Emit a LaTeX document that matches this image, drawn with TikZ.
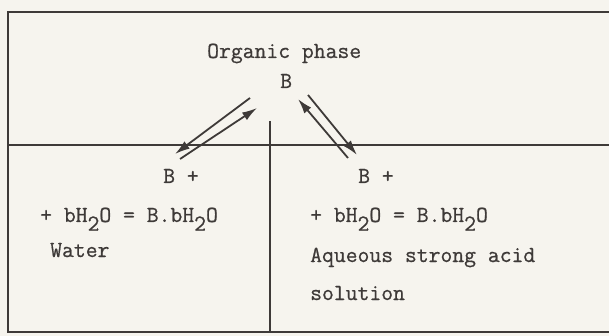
\documentclass[tikz,border=0pt]{standalone}
\usepackage{fontspec}
\setmainfont{Latin Modern Mono}[FakeBold=0.7]
\usetikzlibrary{arrows.meta}
\definecolor{paper}{RGB}{246,244,238}
\definecolor{ink}{RGB}{62,58,56}
\newcommand{\sbtwo}{\raisebox{-0.38em}{2}}
\begin{document}
\begin{tikzpicture}[x=1pt,y=-1pt,
  txt/.style={inner sep=0pt, anchor=base west, text=ink, font=\fontsize{23}{27}\selectfont},
  rule/.style={draw=ink, line width=2pt},
  flow/.style={draw=ink, line width=1.8pt, -{Latex[length=15pt,width=9pt]}}]
\fill[paper] (0,0) rectangle (609,336);
\useasboundingbox (0,0) rectangle (609,336);
% frame
\draw[rule] (609,12) -- (8,12) -- (8,332) -- (609,332);
\draw[rule] (8,145) -- (609,145);
\draw[rule] (270,121) -- (270,332);
% texts
\node[txt] (org) at (207,58) {Organic phase};
\node[txt] (b) at (280,88) {B};
\node[txt] (bl) at (163,183) {B +};
\node[txt] (eql) at (40,222) {+ bH\sbtwo O = B.bH\sbtwo O};
\node[txt] (water) at (50,257) {Water};
\node[txt] (br) at (358,183) {B +};
\node[txt] (eqr) at (310,222) {+ bH\sbtwo O = B.bH\sbtwo O};
\node[txt] (aq) at (310,262) {Aqueous strong acid};
\node[txt] (sol) at (310,300) {solution};
% arrow end points
\coordinate (l1s) at (250,98);  \coordinate (l1e) at (175,154);
\coordinate (l2s) at (180,159); \coordinate (l2e) at (257,108);
\coordinate (r1s) at (348,158); \coordinate (r1e) at (298,99);
\coordinate (r2s) at (308,95);  \coordinate (r2e) at (357,155);
\draw[flow] (l1s) -- (l1e);
\draw[flow] (l2s) -- (l2e);
\draw[flow] (r1s) -- (r1e);
\draw[flow] (r2s) -- (r2e);
\end{tikzpicture}
\end{document}
